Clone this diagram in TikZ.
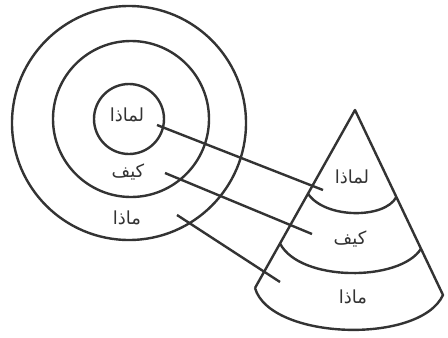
\documentclass[tikz,border=0pt]{standalone}
\usepackage{fontspec}
\newfontfamily\arabicfont[Script=Arabic]{DejaVu Sans}
\TeXXeTstate=1
\usetikzlibrary{calc}
\definecolor{ink}{HTML}{333333}
\begin{document}
\begin{tikzpicture}[x=1pt,y=-1pt,
  ring/.style={draw=ink,line width=2.4pt},
  edge/.style={draw=ink,line width=2.4pt,line join=round},
  link/.style={draw=ink,line width=2.4pt},
  lbl/.style={font=\arabicfont\fontsize{18}{20}\selectfont,text=ink,inner sep=0pt}]
\fill[white] (0,0) rectangle (448,338);
\useasboundingbox (0,0) rectangle (448,338);
% golden circle
\draw[ring] (129,123) circle[radius=117];
\draw[ring] (131,119) circle[radius=78];
\draw[ring] (129,119) circle[radius=35];
\node[lbl] (cwhy) at (127,115) {\beginR لماذا\endR};
\node[lbl] (chow) at (128,172) {\beginR كيف\endR};
\node[lbl] (cwhat) at (127,218) {\beginR ماذا\endR};
% cone
\coordinate (apex) at (355,110);
\coordinate (bl) at (255,288);
\coordinate (br) at (443,295);
\coordinate (l1) at ($(apex)!0.47!(bl)$);
\coordinate (r1) at ($(apex)!0.47!(br)$);
\coordinate (l2) at ($(apex)!0.75!(bl)$);
\coordinate (r2) at ($(apex)!0.75!(br)$);
\draw[edge] (bl) -- (apex) -- (br) .. controls (420,345) and (270,340) .. (bl);
\draw[edge] (l1) .. controls (325,219) and (385,219) .. (r1);
\draw[edge] (l2) .. controls (300,282) and (400,282) .. (r2);
\node[lbl] (kwhy) at (352,177) {\beginR لماذا\endR};
\node[lbl] (khow) at (350,239) {\beginR كيف\endR};
\node[lbl] (kwhat) at (353,297) {\beginR ماذا\endR};
% connectors
\coordinate (s1) at ($(cwhy)+(30,10)$);
\coordinate (s2) at ($(chow)+(37,1)$);
\coordinate (s3) at ($(cwhat)+(50,-3)$);
\coordinate (e1) at ($(kwhy)+(-29,13)$);
\coordinate (e2) at ($(khow)+(-38,-5)$);
\coordinate (e3) at ($(kwhat)+(-73,-15)$);
\draw[link] (s1) -- (e1);
\draw[link] (s2) -- (e2);
\draw[link] (s3) -- (e3);
\end{tikzpicture}
\end{document}
